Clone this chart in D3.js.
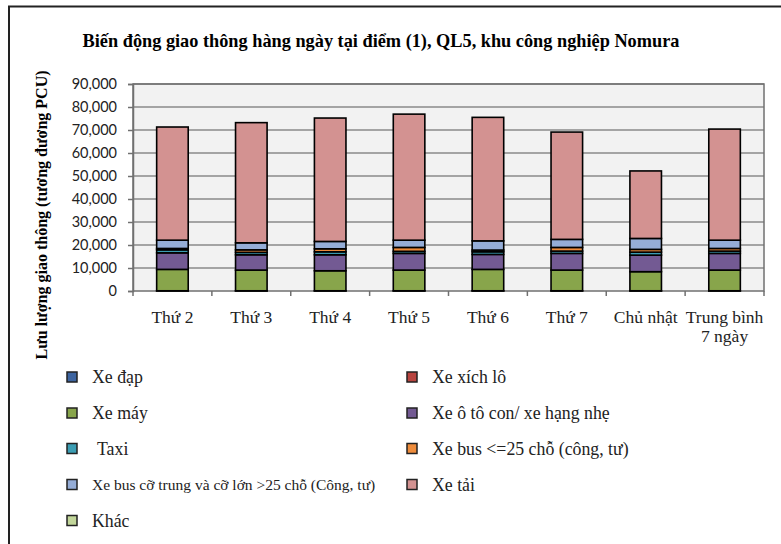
<!DOCTYPE html>
<html>
<head>
<meta charset="utf-8">
<script src="https://cdn.jsdelivr.net/npm/d3@7"></script>
<style>
  html, body { margin: 0; padding: 0; background: #fff; }
  svg { display: block; }
</style>
</head>
<body>
<svg id="chart" width="781" height="544"></svg>
<script>
// Daily traffic volume (PCU) at point (1), National Road 5, Nomura industrial zone
const categories = ["Thứ 2", "Thứ 3", "Thứ 4", "Thứ 5", "Thứ 6", "Thứ 7", "Chủ nhật", "Trung bình 7 ngày"];

const xeDap    = [100, 100, 100, 100, 100, 100, 100, 100];
const xeXichLo = [0, 0, 0, 0, 0, 0, 0, 0];
const xeMay    = [9300, 9000, 8700, 9000, 9300, 9000, 8300, 9000];
const otoCon   = [7200, 6650, 6950, 7250, 6500, 7250, 7200, 7250];
const taxi     = [1300, 1050, 1300, 900, 1150, 1000, 1300, 1000];
const busNho   = [600, 1100, 1300, 1700, 750, 1600, 1200, 1150];
const busLon   = [3600, 3050, 3200, 3150, 4000, 3500, 4750, 3600];
const xeTai    = [49200, 52250, 53650, 54800, 53700, 46650, 29350, 48300];
const khac     = [0, 0, 0, 0, 0, 0, 0, 0];

const yTicks = [0, 10000, 20000, 30000, 40000, 50000, 60000, 70000, 80000, 90000];

const series = [
  { name: "Xe đạp", values: xeDap, color: "#3d64a0" },
  { name: "Xe xích lô", values: xeXichLo, color: "#b8443f" },
  { name: "Xe máy", values: xeMay, color: "#88a54b" },
  { name: "Xe ô tô con/ xe hạng nhẹ", values: otoCon, color: "#735a93" },
  { name: "Taxi", values: taxi, color: "#3b9db3" },
  { name: "Xe bus <=25 chỗ (công, tư)", values: busNho, color: "#ee8c3c" },
  { name: "Xe bus cỡ trung và cỡ lớn >25 chỗ (Công, tư)", values: busLon, color: "#95add7" },
  { name: "Xe tải", values: xeTai, color: "#d39291" },
  { name: "Khác", values: khac, color: "#c2d69a" }
];

const svg = d3.select("#chart");
const serif = "'Liberation Serif', 'Times New Roman', serif";
const sans = "Lato, 'Liberation Sans', sans-serif";

// outer frame (left and top edges visible)
svg.append("path")
  .attr("d", "M9,544 V6.5 H781")
  .attr("fill", "none")
  .attr("stroke", "#222")
  .attr("stroke-width", 2);

// title
svg.append("text")
  .attr("x", 381).attr("y", 47)
  .attr("text-anchor", "middle")
  .attr("font-family", serif)
  .attr("font-weight", "bold")
  .attr("font-size", 18.3)
  .attr("fill", "#000")
  .text("Biến động giao thông hàng ngày tại điểm (1), QL5, khu công nghiệp Nomura");

const plot = { left: 133, right: 764, top: 84, bottom: 291 };

const x = d3.scaleBand()
  .domain(categories)
  .range([plot.left, plot.right])
  .paddingInner(0.6)
  .paddingOuter(0.3);

const y = d3.scaleLinear()
  .domain([0, 90000])
  .range([plot.bottom, plot.top]);

// plot background
svg.append("rect")
  .attr("x", plot.left).attr("y", plot.top)
  .attr("width", plot.right - plot.left)
  .attr("height", plot.bottom - plot.top)
  .attr("fill", "#f2f2f2");

// horizontal gridlines
svg.append("g")
  .selectAll("line")
  .data(yTicks.slice(1))
  .join("line")
  .attr("x1", plot.left).attr("x2", plot.right)
  .attr("y1", d => y(d)).attr("y2", d => y(d))
  .attr("stroke", "#8a8a8a")
  .attr("stroke-width", 1.5);

// plot border
svg.append("rect")
  .attr("x", plot.left).attr("y", plot.top)
  .attr("width", plot.right - plot.left)
  .attr("height", plot.bottom - plot.top)
  .attr("fill", "none")
  .attr("stroke", "#707070")
  .attr("stroke-width", 1.5);

// stacked bars
const table = categories.map((c, i) => {
  const row = { category: c };
  series.forEach(s => { row[s.name] = s.values[i]; });
  return row;
});
const stack = d3.stack().keys(series.map(s => s.name))(table);

svg.append("g")
  .selectAll("g")
  .data(stack)
  .join("g")
  .attr("fill", (d, i) => series[i].color)
  .selectAll("rect")
  .data(d => d.filter(p => p[1] - p[0] > 0))
  .join("rect")
  .attr("x", d => x(d.data.category))
  .attr("width", x.bandwidth())
  .attr("y", d => y(d[1]))
  .attr("height", d => y(d[0]) - y(d[1]))
  .attr("stroke", "#000")
  .attr("stroke-width", 1.6);

// y axis
const yAxis = svg.append("g")
  .attr("transform", `translate(${plot.left},0)`)
  .call(d3.axisLeft(y).tickValues(yTicks).tickSize(5).tickPadding(11)
    .tickFormat(d => d === 0 ? "0" : d3.format(",")(d)));
yAxis.select(".domain").attr("stroke", "#707070").attr("stroke-width", 1.5);
yAxis.selectAll(".tick line").attr("stroke", "#707070").attr("stroke-width", 1.5);
yAxis.selectAll(".tick text")
  .attr("font-family", sans)
  .attr("font-size", 14.5)
  .attr("fill", "#222");

// x axis: ticks at category boundaries
const step = x.step();
const boundaries = d3.range(categories.length + 1).map(i => plot.left + i * step);
svg.append("g")
  .selectAll("line")
  .data(boundaries)
  .join("line")
  .attr("x1", d => d).attr("x2", d => d)
  .attr("y1", plot.bottom).attr("y2", plot.bottom + 5)
  .attr("stroke", "#707070")
  .attr("stroke-width", 1.5);

// category labels (the last one wraps onto two lines)
const xLabels = svg.append("g")
  .selectAll("text")
  .data(categories)
  .join("text")
  .attr("x", d => x(d) + x.bandwidth() / 2)
  .attr("y", 323)
  .attr("text-anchor", "middle")
  .attr("font-family", serif)
  .attr("font-size", 17.5)
  .attr("fill", "#222");
xLabels.each(function(d) {
  const t = d3.select(this);
  const parts = d === "Trung bình 7 ngày" ? ["Trung bình", "7 ngày"] : [d];
  parts.forEach((p, k) => {
    t.append("tspan")
      .attr("x", x(d) + x.bandwidth() / 2)
      .attr("dy", k === 0 ? 0 : 18.5)
      .text(p);
  });
});

// y axis title
svg.append("text")
  .attr("transform", "translate(47,215) rotate(-90)")
  .attr("text-anchor", "middle")
  .attr("font-family", serif)
  .attr("font-weight", "bold")
  .attr("font-size", 16)
  .attr("fill", "#000")
  .text("Lưu lượng giao thông (tương đương PCU)");

// legend: two columns, filled row by row
const legendCols = [67, 407];
const legendRows = [377, 413, 448.5, 484.5, 520.5];
const legendTextX = [92, 432];
const legend = svg.append("g")
  .selectAll("g")
  .data(series)
  .join("g")
  .attr("transform", (d, i) => `translate(${legendCols[i % 2]},${legendRows[Math.floor(i / 2)]})`);
legend.append("rect")
  .attr("x", 0).attr("y", -5)
  .attr("width", 10).attr("height", 10)
  .attr("fill", d => d.color)
  .attr("stroke", "#222")
  .attr("stroke-width", 1.5);
legend.append("text")
  .attr("x", (d, i) => legendTextX[i % 2] - legendCols[i % 2] + (d.name === "Taxi" ? 5 : 0))
  .attr("y", 0)
  .attr("dy", "0.35em")
  .attr("font-family", serif)
  .attr("font-size", d => d.name.length > 40 ? 15.5 : 17.8)
  .attr("fill", "#222")
  .text(d => d.name);
</script>
</body>
</html>
